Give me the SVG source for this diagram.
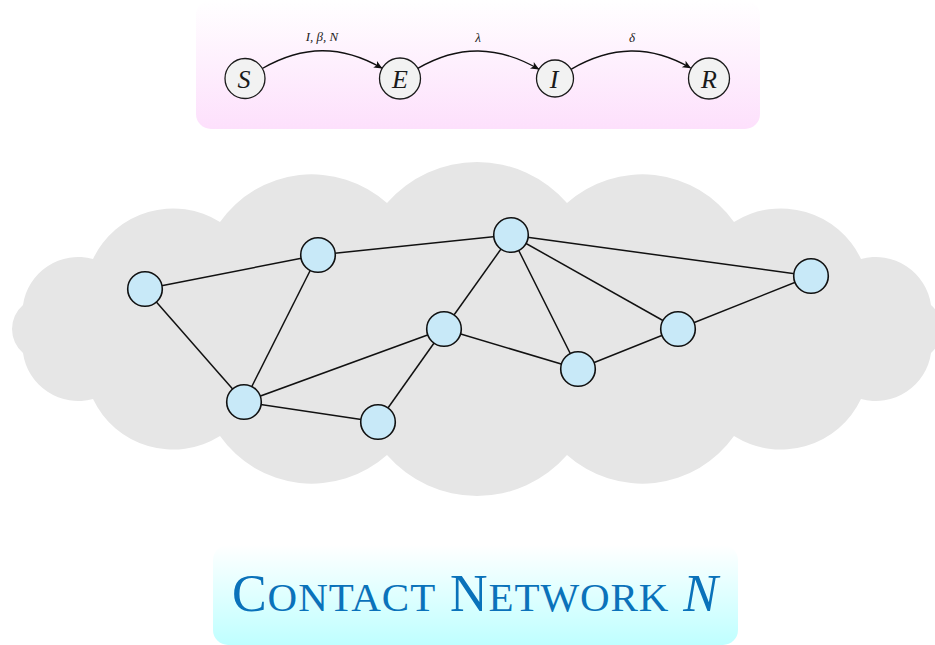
<svg xmlns="http://www.w3.org/2000/svg" width="935" height="645" viewBox="0 0 935 645">
  <style>
    .state circle { fill: #f2f2f2; stroke: #1a1a1a; stroke-width: 1.3; }
    .state text { font-family: "Liberation Serif", "DejaVu Serif", serif; font-style: italic; font-size: 26px; fill: #1a1a1a; text-anchor: middle; }
    .arrow { fill: none; stroke: #111; stroke-width: 1.4; marker-end: url(#arr); }
    .lbl { font-family: "Liberation Serif", "DejaVu Serif", serif; font-style: italic; font-size: 13px; fill: #222; text-anchor: middle; }
    .node circle { fill: #c8e9f8; stroke: #111; stroke-width: 1.6; }
    .edges line { stroke: #111; stroke-width: 1.5; }
    .title { font-family: "Liberation Serif", "DejaVu Serif", serif; fill: #0a72ba; }
  </style>
  <defs>
    <linearGradient id="pinkGrad" x1="0" y1="0" x2="0" y2="129" gradientUnits="userSpaceOnUse">
      <stop offset="0" stop-color="#ffffff"/>
      <stop offset="1" stop-color="#fde0fc"/>
    </linearGradient>
    <linearGradient id="cyanGrad" x1="0" y1="545" x2="0" y2="645" gradientUnits="userSpaceOnUse">
      <stop offset="0" stop-color="#ffffff"/>
      <stop offset="1" stop-color="#bfffff"/>
    </linearGradient>
    <marker id="arr" viewBox="-9 -5 10 10" refX="0" refY="0" markerWidth="10" markerHeight="10" markerUnits="userSpaceOnUse" orient="auto">
      <path d="M0.5,0 L-8,-3.8 L-5.8,0 L-8,3.8 Z" fill="#111"/>
    </marker>
  </defs>

  <!-- SEIR panel -->
  <g id="seir-panel">
    <rect x="196" y="0" width="564" height="129" rx="15" ry="15" fill="url(#pinkGrad)"/>
  </g>

  <g id="seir-connectors">
    <path class="arrow" d="M262.3,68.5 C303,45 341.5,44.75 382,68.2"/>
    <path class="arrow" d="M417.8,68.3 C458.9,44.5 497.9,45.5 538.8,69.2"/>
    <path class="arrow" d="M571,69.3 C611.6,45.8 650.2,44.6 690.6,68"/>
    <text class="lbl" x="322" y="41">I, β, N</text>
    <text class="lbl" x="478" y="42">λ</text>
    <text class="lbl" x="632" y="42">δ</text>
  </g>

  <g id="state-S" class="state">
    <circle cx="245" cy="78.5" r="20"/>
    <text x="244" y="87.5">S</text>
  </g>
  <g id="state-E" class="state">
    <circle cx="400" cy="78.5" r="20.5"/>
    <text x="400" y="87.5">E</text>
  </g>
  <g id="state-I" class="state">
    <circle cx="555" cy="78.5" r="18.5"/>
    <text x="554" y="87.5">I</text>
  </g>
  <g id="state-R" class="state">
    <circle cx="709" cy="78.5" r="20.5"/>
    <text x="709" y="87.5">R</text>
  </g>

  <!-- Cloud -->
  <g id="cloud">
    <path fill="#e6e6e6" d="M23,353 A31.7,31.7 0 0 1 23,305 A55.7,55.7 0 0 1 93,259 A88.5,88.5 0 0 1 220,222 A112.6,112.6 0 0 1 387,203 A119.3,119.3 0 0 1 567,203 A112.6,112.6 0 0 1 734,222 A88.5,88.5 0 0 1 861,259 A55.7,55.7 0 0 1 931,305 A31.7,31.7 0 0 1 931,353 A55.7,55.7 0 0 1 861,399 A88.5,88.5 0 0 1 734,436 A112.6,112.6 0 0 1 567,455 A119.3,119.3 0 0 1 387,455 A112.6,112.6 0 0 1 220,436 A88.5,88.5 0 0 1 93,399 A55.7,55.7 0 0 1 23,353 Z"/>
  </g>

  <!-- Network edges -->
  <g id="edges" class="edges">
    <line x1="145" y1="289" x2="318" y2="255"/>
    <line x1="145" y1="289" x2="244" y2="402"/>
    <line x1="318" y1="255" x2="244" y2="402"/>
    <line x1="318" y1="255" x2="511" y2="235"/>
    <line x1="511" y1="235" x2="811" y2="276"/>
    <line x1="511" y1="235" x2="444" y2="329"/>
    <line x1="511" y1="235" x2="578" y2="369"/>
    <line x1="511" y1="235" x2="678" y2="329"/>
    <line x1="811" y1="276" x2="678" y2="329"/>
    <line x1="678" y1="329" x2="578" y2="369"/>
    <line x1="444" y1="329" x2="578" y2="369"/>
    <line x1="444" y1="329" x2="244" y2="402"/>
    <line x1="444" y1="329" x2="378" y2="422"/>
    <line x1="244" y1="402" x2="378" y2="422"/>
  </g>

  <!-- Network nodes -->
  <g id="n1" class="node"><circle cx="145" cy="289" r="17.3"/></g>
  <g id="n2" class="node"><circle cx="318" cy="255" r="17.3"/></g>
  <g id="n3" class="node"><circle cx="511" cy="235" r="17.3"/></g>
  <g id="n4" class="node"><circle cx="811" cy="276" r="17.3"/></g>
  <g id="n5" class="node"><circle cx="444" cy="329" r="17.3"/></g>
  <g id="n6" class="node"><circle cx="678" cy="329" r="17.3"/></g>
  <g id="n7" class="node"><circle cx="578" cy="369" r="17.3"/></g>
  <g id="n8" class="node"><circle cx="244" cy="402" r="17.3"/></g>
  <g id="n9" class="node"><circle cx="378" cy="422" r="17.3"/></g>

  <!-- Title -->
  <g id="title-box">
    <rect x="213" y="545" width="525" height="100" rx="15" ry="15" fill="url(#cyanGrad)"/>
    <text class="title" x="475" y="611" text-anchor="middle" textLength="486" lengthAdjust="spacing"><tspan font-size="52">C</tspan><tspan font-size="41">ONTACT</tspan><tspan font-size="52"> N</tspan><tspan font-size="41">ETWORK</tspan><tspan font-size="52" font-style="italic"> N</tspan></text>
  </g>
</svg>
